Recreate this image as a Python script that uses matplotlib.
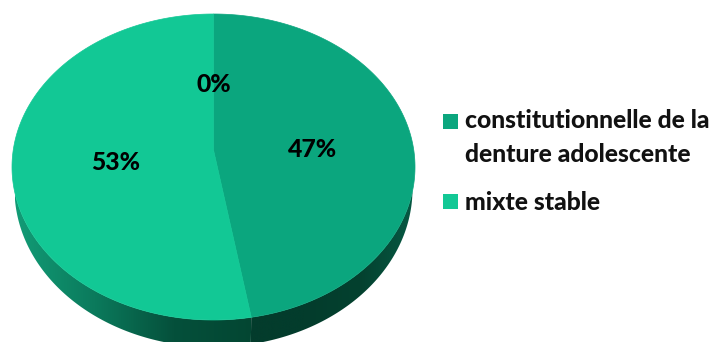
import numpy as np
import matplotlib
matplotlib.use("Agg")
import matplotlib.pyplot as plt
from matplotlib.colors import LinearSegmentedColormap
from matplotlib.patches import PathPatch, Rectangle
from matplotlib.path import Path

categories = ["constitutionnelle de la\ndenture adolescente", "mixte stable", ""]
shares = [47, 53, 0]
pct_labels = ["47%", "53%", "0%"]

# pie geometry, in pixels
CX, CY, RX, RY = 213.5, 167, 201.5, 153
APEX = (213.5, 150)
BX, BY, BRX, BRY = 213.5, 189, 199, 158

face_colors = ["#0ba67e", "#12c895"]
label_pos = [(313, 149.5), (116, 162), (214, 85)]
FONT = "Lato"
SIZE = 17.8


def top_point(theta):
    return CX + RX * np.sin(theta), CY - RY * np.cos(theta)


def wedge_path(t0, t1):
    t = np.linspace(t0, t1, 200)
    x, y = top_point(t)
    pts = np.column_stack([np.r_[APEX[0], x, APEX[0]], np.r_[APEX[1], y, APEX[1]]])
    return Path(pts, closed=True)


def side_path(t0, t1):
    # wall below the rim, between the top ellipse and the lower ellipse
    t = np.linspace(t0, t1, 300)
    x, y = top_point(t)
    bx = BX + BRX * np.sin(t)
    by = BY - BRY * np.cos(t)
    keep = by >= y
    pts = np.column_stack([np.r_[x[keep], bx[keep][::-1]], np.r_[y[keep], by[keep][::-1]]])
    return Path(np.vstack([pts, pts[0]]), closed=True)


def gradient_fill(ax, path, colors, extent):
    cmap = LinearSegmentedColormap.from_list("g", colors)
    grad = np.linspace(0, 1, 256).reshape(1, -1)
    im = ax.imshow(grad, cmap=cmap, extent=extent, aspect="auto", zorder=1)
    im.set_clip_path(PathPatch(path, transform=ax.transData))


fig = plt.figure(figsize=(7.14, 3.42), dpi=100)
ax = fig.add_axes([0, 0, 1, 1])

edges = np.r_[0, np.cumsum(shares)] / sum(shares) * 2 * np.pi
split = edges[1]
seam_x = top_point(split)[0]

# side walls
gradient_fill(ax, side_path(split, 2 * np.pi), ["#129c76", "#0b7a5c", "#05503b", "#034632"],
              (15, seam_x + 2, 345, 190))
gradient_fill(ax, side_path(np.pi / 2, split), ["#033c2c", "#033c2c", "#04412f", "#075a44"],
              (seam_x - 2, 416, 345, 190))

# top faces
for i, color in enumerate(face_colors):
    ax.add_patch(PathPatch(wedge_path(edges[i], edges[i + 1]), facecolor=color,
                           edgecolor=color, linewidth=0.5, zorder=2))

for (x, y), text in zip(label_pos, pct_labels):
    ax.text(x, y, text, ha="center", va="center", fontsize=SIZE, fontweight="black",
            family=FONT, color="black", zorder=3)

# legend
ax.add_patch(Rectangle((443, 114), 15, 15, facecolor=face_colors[0], edgecolor="none"))
ax.add_patch(Rectangle((443, 194), 15, 15, facecolor=face_colors[1], edgecolor="none"))
line1, line2 = categories[0].split("\n")
for y, text in [(121, line1), (154, line2), (202.5, categories[1])]:
    ax.text(465, y, text, ha="left", va="center", fontsize=SIZE, fontweight="black",
            family=FONT, color="#111111")

ax.set_xlim(0, 714)
ax.set_ylim(342, 0)
ax.axis("off")

fig.savefig("out.png", dpi=100)
